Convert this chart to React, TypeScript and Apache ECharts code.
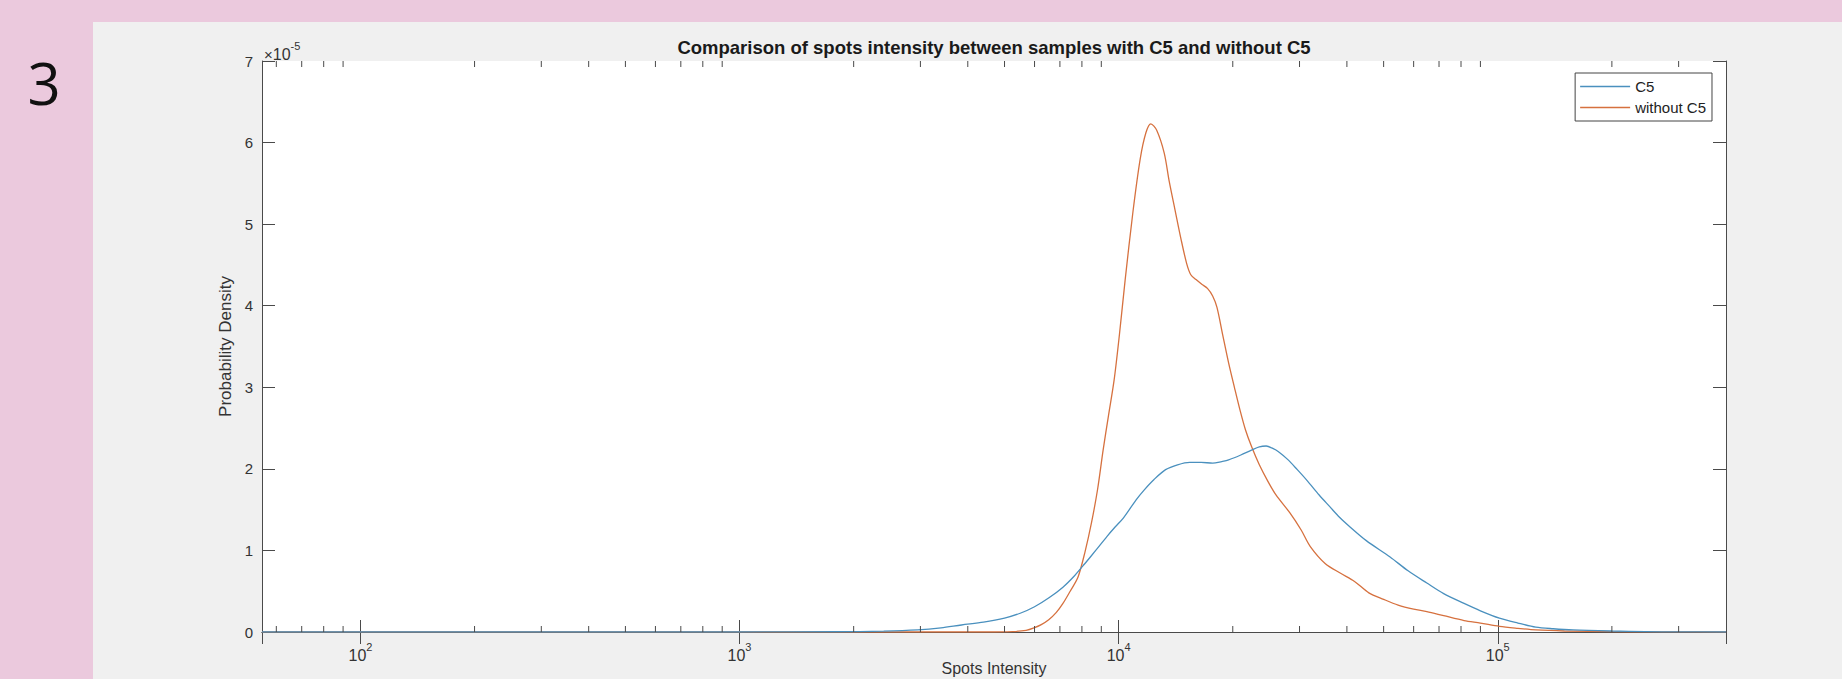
import React, { useEffect, useRef } from "react";
import * as echarts from "echarts";

// ---- data (x: spots intensity, y: probability density in units of 1e-5) ----
const c5X = [55, 1000, 1800, 2400, 2950, 3400, 3850, 4400, 5000, 5500, 6000, 6550, 7130, 7650, 8150, 8700, 9310, 9800, 10300, 11120, 11670, 12400, 13300, 14300, 15400, 16500, 17700, 18700, 19500, 21000, 22400, 23500, 24500, 25500, 26400, 28000, 29600, 31500, 33800, 36000, 38000, 40500, 45000, 52000, 58000, 65000, 72000, 81500, 90000, 101000, 113000, 126000, 140000, 158000, 200000, 245000, 300000, 400000];
const c5Y = [0, 0, 0.003, 0.01, 0.025, 0.05, 0.086, 0.12, 0.17, 0.23, 0.31, 0.42, 0.55, 0.69, 0.84, 1.0, 1.17, 1.29, 1.4, 1.62, 1.74, 1.87, 1.99, 2.05, 2.08, 2.08, 2.07, 2.09, 2.11, 2.17, 2.23, 2.27, 2.28, 2.25, 2.21, 2.11, 1.99, 1.85, 1.68, 1.54, 1.42, 1.3, 1.12, 0.92, 0.75, 0.6, 0.47, 0.35, 0.26, 0.17, 0.11, 0.06, 0.04, 0.025, 0.012, 0.005, 0.001, 0];

const woX = [55, 4500, 5250, 5700, 5980, 6250, 6540, 6850, 7130, 7450, 7810, 8150, 8480, 8800, 9100, 9400, 9730, 10050, 10400, 10900, 11400, 11800, 12160, 12600, 13190, 13600, 14090, 14600, 15110, 15500, 16000, 16600, 17170, 17700, 18170, 18800, 19500, 20200, 20900, 21600, 22430, 23500, 24800, 26000, 28300, 30300, 32000, 35040, 38500, 41900, 45700, 50000, 54600, 60000, 65000, 72000, 81500, 90000, 101000, 113000, 126000, 150000, 200000, 250000, 400000];
const woY = [0, 0, 0.005, 0.02, 0.05, 0.09, 0.15, 0.24, 0.35, 0.5, 0.67, 0.98, 1.34, 1.75, 2.23, 2.65, 3.09, 3.65, 4.31, 5.14, 5.8, 6.12, 6.23, 6.15, 5.87, 5.52, 5.17, 4.82, 4.52, 4.38, 4.32, 4.26, 4.21, 4.12, 3.98, 3.65, 3.3, 3.0, 2.72, 2.48, 2.27, 2.05, 1.84, 1.68, 1.46, 1.25, 1.05, 0.84, 0.72, 0.62, 0.48, 0.4, 0.33, 0.28, 0.25, 0.2, 0.14, 0.11, 0.07, 0.045, 0.025, 0.012, 0.004, 0.001, 0];

const seriesNames = ["C5", "without C5"];
const xMin = 55;
const xMax = 400000;
const yMin = 0;
const yMax = 7;
const yInterval = 1;
const decades = [10, 100, 1000, 10000, 100000];
const minorMultipliers = [2, 3, 4, 5, 6, 7, 8, 9];
const titleText = "Comparison of spots intensity between samples with C5 and without C5";
const xName = "Spots Intensity";
const yName = "Probability Density";
const panelNumber = "3";

const minorTickValues = decades
  .flatMap((d) => minorMultipliers.map((m) => d * m))
  .filter((v) => v > xMin && v < xMax);

const axisColor = "#4a4a4a";
const labelColor = "#333333";
const blue = "#4a90be";
const orange = "#d6713f";

export default function App() {
  const ref = useRef<HTMLDivElement>(null);

  useEffect(() => {
    if (!ref.current) return;
    const chart = echarts.init(ref.current, null, { renderer: "svg" });

    const xLabelFormatter = (v: number) => {
      const e = Math.round(Math.log10(v));
      if (Math.abs(Math.pow(10, e) - v) > 1e-6 * v) return "";
      return `{b|10}{s|${e}}`;
    };

    const option: any = {
      animation: false,
      backgroundColor: "#EBC9DD",
      grid: {
        left: 262,
        right: 116,
        top: 61,
        bottom: 47,
        show: true,
        backgroundColor: "#ffffff",
        borderWidth: 0,
        containLabel: false,
        outerBoundsMode: "none",
      },
      legend: {
        data: seriesNames,
        orient: "vertical",
        right: 130,
        top: 73,
        icon: "rect",
        itemWidth: 50,
        itemHeight: 1.5,
        itemGap: 4,
        padding: [5, 6, 5, 5],
        backgroundColor: "#ffffff",
        borderColor: "#444",
        borderWidth: 1,
        borderRadius: 0,
        textStyle: { fontSize: 15, color: "#222", fontFamily: "Liberation Sans", lineHeight: 17 },
      },
      graphic: [
        {
          type: "rect",
          shape: { x: 93, y: 22, width: 1842 - 93, height: 679 - 22 },
          style: { fill: "#F0F0F0" },
          z: -10,
          silent: true,
        },
        {
          type: "text",
          x: 44,
          y: 82,
          style: {
            text: panelNumber,
            fill: "#111",
            font: '58px "Open Sans"',
            align: "center",
            verticalAlign: "middle",
          },
        },
        {
          type: "text",
          x: 994,
          y: 47,
          style: {
            text: titleText,
            fill: "#1a1a1a",
            font: 'bold 18.5px "Liberation Sans"',
            align: "center",
            verticalAlign: "middle",
          },
        },
        {
          type: "text",
          x: 994,
          y: 660,
          style: {
            text: xName,
            fill: labelColor,
            font: '16px "Liberation Sans"',
            align: "center",
            verticalAlign: "top",
          },
        },
        {
          type: "text",
          x: 264,
          y: 51,
          style: {
            text: "{m|×}{b|10}{s|-5}",
            fill: labelColor,
            align: "left",
            verticalAlign: "middle",
            rich: {
              m: { fontSize: 15, fontFamily: "Liberation Sans", fill: labelColor, lineHeight: 22, verticalAlign: "bottom" },
              b: { fontSize: 16, fontFamily: "Liberation Sans", fill: labelColor, lineHeight: 22, verticalAlign: "bottom" },
              s: { fontSize: 11, fontFamily: "Liberation Sans", fill: labelColor, lineHeight: 22, verticalAlign: "top" },
            },
          },
        },
      ],
      xAxis: [
        {
          type: "log",
          logBase: 10,
          min: xMin,
          max: xMax,
          position: "bottom",
          axisLine: { show: true, lineStyle: { color: axisColor, width: 1 } },
          axisTick: { show: true, inside: true, length: 12, lineStyle: { color: axisColor } },
          splitLine: { show: false },
          minorTick: { show: false },
          axisLabel: {
            show: true,
            margin: 9,
            showMinLabel: false,
            showMaxLabel: false,
            formatter: xLabelFormatter,
            rich: {
              b: { fontSize: 16, color: labelColor, fontFamily: "Liberation Sans", lineHeight: 22, verticalAlign: "bottom" },
              s: { fontSize: 11, color: labelColor, fontFamily: "Liberation Sans", lineHeight: 22, verticalAlign: "top" },
            },
          },
        },
        {
          type: "log",
          logBase: 10,
          min: xMin,
          max: xMax,
          position: "top",
          axisLine: { show: true, lineStyle: { color: axisColor, width: 1 } },
          axisTick: { show: true, inside: true, length: 12, lineStyle: { color: axisColor } },
          axisLabel: { show: false },
          splitLine: { show: false },
        },
      ],
      yAxis: [
        {
          type: "value",
          min: yMin,
          max: yMax,
          interval: yInterval,
          position: "left",
          name: yName,
          nameLocation: "middle",
          nameGap: 27,
          nameTextStyle: { fontSize: 17, color: labelColor, fontFamily: "Liberation Sans" },
          axisLine: { show: true, lineStyle: { color: axisColor, width: 1 } },
          axisTick: { show: true, inside: true, length: 13, lineStyle: { color: axisColor } },
          splitLine: { show: false },
          axisLabel: { margin: 9, fontSize: 15, color: labelColor, fontFamily: "Liberation Sans" },
        },
        {
          type: "value",
          min: yMin,
          max: yMax,
          interval: yInterval,
          position: "right",
          axisLine: { show: true, lineStyle: { color: axisColor, width: 1 } },
          axisTick: { show: true, inside: true, length: 13, lineStyle: { color: axisColor } },
          splitLine: { show: false },
          axisLabel: { show: false },
        },
      ],
      series: [
        {
          name: seriesNames[0],
          type: "line",
          xAxisIndex: 0,
          yAxisIndex: 0,
          data: c5X.map((x, i) => [x, c5Y[i]]),
          symbol: "none",
          smooth: 0.3,
          lineStyle: { color: blue, width: 1.3 },
          itemStyle: { color: blue },
          z: 3,
        },
        {
          name: seriesNames[1],
          type: "line",
          xAxisIndex: 0,
          yAxisIndex: 0,
          data: woX.map((x, i) => [x, woY[i]]),
          symbol: "none",
          smooth: 0.3,
          lineStyle: { color: orange, width: 1.3 },
          itemStyle: { color: orange },
          z: 2,
        },
        {
          type: "custom",
          xAxisIndex: 0,
          yAxisIndex: 0,
          silent: true,
          clip: false,
          z: 5,
          encode: { x: 0, y: 1 },
          data: minorTickValues.map((v) => [v, yMin]),
          renderItem: (_params: any, api: any) => {
            const v = api.value(0);
            const b = api.coord([v, yMin]);
            const t = api.coord([v, yMax]);
            return {
              type: "group",
              children: [
                { type: "line", shape: { x1: b[0], y1: b[1], x2: b[0], y2: b[1] - 6 }, style: { stroke: axisColor, lineWidth: 1 } },
                { type: "line", shape: { x1: t[0], y1: t[1], x2: t[0], y2: t[1] + 6 }, style: { stroke: axisColor, lineWidth: 1 } },
              ],
            };
          },
        },
      ],
    };

    chart.setOption(option);
    return () => chart.dispose();
  }, []);

  return (
    <div
      ref={ref}
      style={{ position: "absolute", left: 0, top: 0, width: 1842, height: 679 }}
    />
  );
}
